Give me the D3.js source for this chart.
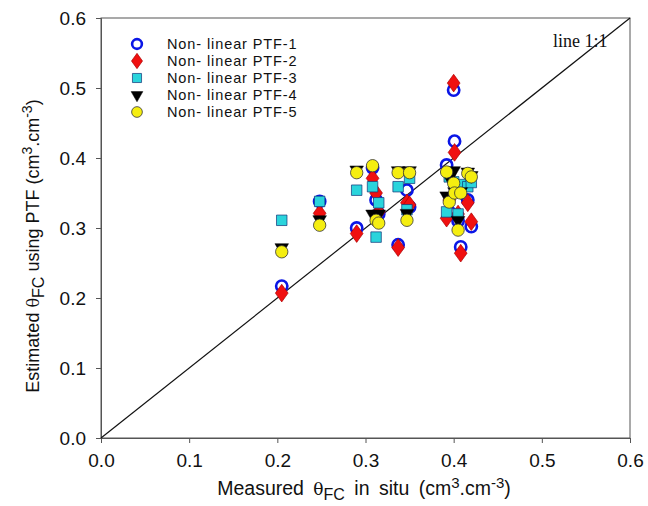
<!DOCTYPE html>
<html>
<head>
<meta charset="utf-8">
<script src="https://cdn.jsdelivr.net/npm/d3@7"></script>
<style>
  body { margin: 0; background: #fff; }
  svg text { font-family: "Liberation Sans", Arial, sans-serif; }
</style>
</head>
<body>
<svg width="648" height="506"></svg>
<script>
// measured field capacity (x) for each sample
var measured = [0.205, 0.248, 0.29, 0.308, 0.312, 0.315, 0.337, 0.347, 0.35, 0.392, 0.395, 0.40, 0.401, 0.405, 0.408, 0.416, 0.42];

// estimated values from each PTF
var ptf1 = [0.217, 0.338, 0.300, 0.386, 0.340, 0.320, 0.276, 0.354, 0.330, 0.390, 0.323, 0.497, 0.424, 0.310, 0.273, 0.340, 0.302];
var ptf2 = [0.207, 0.321, 0.292, 0.371, 0.350, 0.323, 0.272, 0.336, 0.333, 0.314, 0.340, 0.507, 0.408, 0.320, 0.264, 0.336, 0.309];
var ptf3 = [0.311, 0.338, 0.354, 0.359, 0.287, 0.336, 0.359, 0.326, 0.371, 0.323, 0.373, 0.366, 0.360, 0.320, 0.362, 0.359, 0.365];
var ptf4 = [0.272, 0.312, 0.383, 0.320, 0.318, 0.320, 0.382, 0.321, 0.382, 0.346, 0.372, 0.382, 0.352, 0.311, 0.352, 0.380, 0.375];
var ptf5 = [0.266, 0.304, 0.379, 0.389, 0.311, 0.307, 0.379, 0.311, 0.379, 0.380, 0.337, 0.364, 0.350, 0.297, 0.350, 0.378, 0.373];

var seriesNames = ["Non- linear PTF-1", "Non- linear PTF-2", "Non- linear PTF-3", "Non- linear PTF-4", "Non- linear PTF-5"];
var ticks = [0.0, 0.1, 0.2, 0.3, 0.4, 0.5, 0.6];

var svg = d3.select("svg");

var x = d3.scaleLinear().domain([0, 0.6]).range([101, 630]);
var y = d3.scaleLinear().domain([0, 0.6]).range([438, 18]);

// frame
svg.append("rect")
    .attr("x", x(0)).attr("y", y(0.6))
    .attr("width", x(0.6) - x(0)).attr("height", y(0) - y(0.6))
    .attr("fill", "none")
    .attr("stroke", "#555")
    .attr("stroke-width", 1);

var xAxis = svg.append("g")
    .attr("transform", "translate(0," + y(0) + ")")
    .call(d3.axisBottom(x).tickValues(ticks).tickFormat(d3.format(".1f")).tickSize(5).tickPadding(11));
var yAxis = svg.append("g")
    .attr("transform", "translate(" + x(0) + ",0)")
    .call(d3.axisLeft(y).tickValues(ticks).tickFormat(d3.format(".1f")).tickSize(5).tickPadding(10));

[xAxis, yAxis].forEach(a => {
    a.select(".domain").attr("stroke", "#555");
    a.selectAll(".tick line").attr("stroke", "#555");
    a.selectAll(".tick text")
        .attr("font-size", 19)
        .attr("fill", "#111")
        .attr("font-family", "Liberation Sans, Arial, sans-serif");
});

// 1:1 line
svg.append("line")
    .attr("x1", x(0)).attr("y1", y(0))
    .attr("x2", x(0.6)).attr("y2", y(0.6))
    .attr("stroke", "#111")
    .attr("stroke-width", 1.2);

svg.append("text")
    .attr("x", 553).attr("y", 47)
    .attr("font-size", 18)
    .style("font-family", "Liberation Serif, serif")
    .attr("fill", "#111")
    .text("line 1:1");

// symbols
var styles = [
    { type: d3.symbolCircle, size: 100, fill: "none", stroke: "#0a16e6", sw: 2.6 },
    { type: d3.symbolDiamond, size: 90, fill: "#f01010", stroke: "#a00", sw: 0.6, sq: true },
    { type: d3.symbolSquare, size: 110, fill: "#2ad4dc", stroke: "#137", sw: 0.7 },
    { type: d3.symbolTriangle, size: 80, fill: "#000", stroke: "#000", sw: 0.5, flip: true },
    { type: d3.symbolCircle, size: 120, fill: "#f5ee10", stroke: "#333", sw: 0.8 }
];
var allSeries = [ptf1, ptf2, ptf3, ptf4, ptf5];

function drawSymbol(g, st) {
    var p = g.append("path")
        .attr("d", d3.symbol().type(st.type).size(st.size)())
        .attr("fill", st.fill)
        .attr("stroke", st.stroke)
        .attr("stroke-width", st.sw);
    if (st.flip) p.attr("transform", "rotate(180)");
    if (st.sq) p.attr("transform", "scale(1.25,1)");
    return p;
}

allSeries.forEach((vals, i) => {
    var g = svg.append("g").attr("class", "series" + i);
    vals.forEach((v, j) => {
        var pt = g.append("g")
            .attr("transform", "translate(" + x(measured[j]) + "," + y(v) + ")");
        drawSymbol(pt, styles[i]);
    });
});

// legend
var legend = svg.append("g");
seriesNames.forEach((name, i) => {
    var row = legend.append("g").attr("transform", "translate(0," + (44 + i * 17) + ")");
    var sym = row.append("g").attr("transform", "translate(137,0)");
    var st = Object.assign({}, styles[i]);
    st.size = st.size * 0.75;
    drawSymbol(sym, st);
    row.append("text")
        .attr("x", 167).attr("y", 5)
        .attr("font-size", 14.5)
        .style("letter-spacing", "0.9px")
        .attr("fill", "#111")
        .text(name);
});

// axis titles
var xt = svg.append("text")
    .attr("x", 364).attr("y", 495)
    .attr("text-anchor", "middle")
    .attr("font-size", 19.5)
    .style("word-spacing", "4px")
    .attr("fill", "#111");
xt.append("tspan").text("Measured ");
xt.append("tspan").style("font-family", "DejaVu Serif, serif").attr("font-size", 17).text("θ");
xt.append("tspan").attr("dy", 5).attr("font-size", 16).text("FC");
xt.append("tspan").attr("dy", -5).text(" in situ (cm");
xt.append("tspan").attr("dy", -7).attr("font-size", 15).text("3");
xt.append("tspan").attr("dy", 7).text(".cm");
xt.append("tspan").attr("dy", -7).attr("font-size", 15).text("-3");
xt.append("tspan").attr("dy", 7).text(")");

var yt = svg.append("text")
    .attr("transform", "translate(39,246) rotate(-90)")
    .attr("text-anchor", "middle")
    .attr("font-size", 18)
    .attr("fill", "#111");
yt.append("tspan").text("Estimated ");
yt.append("tspan").style("font-family", "DejaVu Serif, serif").attr("font-size", 16).text("θ");
yt.append("tspan").attr("dy", 5).attr("font-size", 16).text("FC");
yt.append("tspan").attr("dy", -5).text(" using  PTF (cm");
yt.append("tspan").attr("dy", -7).attr("font-size", 14).text("3");
yt.append("tspan").attr("dy", 7).text(".cm");
yt.append("tspan").attr("dy", -7).attr("font-size", 14).text("-3");
yt.append("tspan").attr("dy", 7).text(")");
</script>
</body>
</html>
